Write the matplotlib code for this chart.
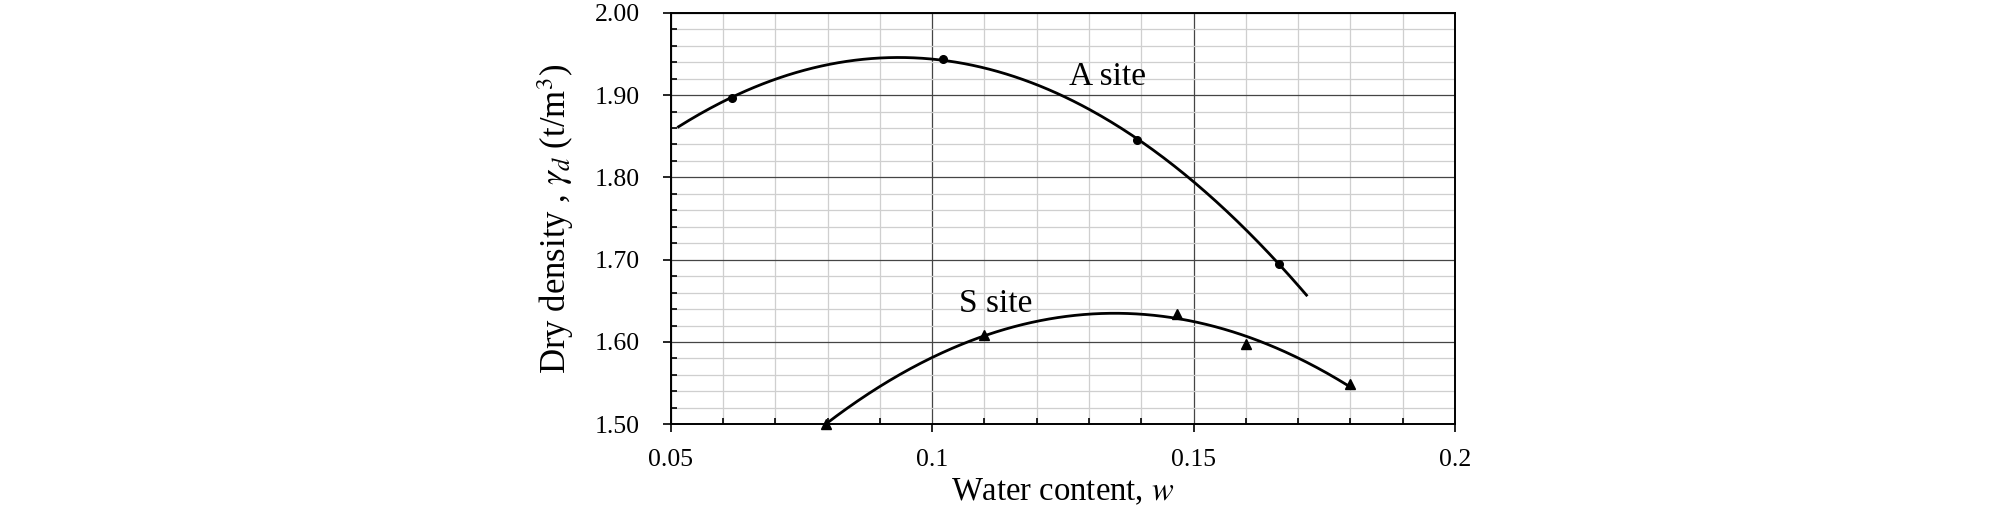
import numpy as np
import matplotlib.pyplot as plt
from matplotlib.ticker import MultipleLocator, FuncFormatter

plt.rcParams['font.family'] = ['Liberation Serif', 'DejaVu Serif']
plt.rcParams['mathtext.fontset'] = 'stix'

# A site (circles) and S site (triangles)
a_w = [0.0617, 0.1021, 0.1392, 0.1664]
a_d = [1.897, 1.9435, 1.8455, 1.6948]
s_w = [0.0798, 0.110, 0.1469, 0.160, 0.1799]
s_d = [1.500, 1.609, 1.6337, 1.598, 1.549]
# extent of the drawn trend lines
a_range = (0.0515, 0.1716)
s_range = (0.0798, 0.1799)

fig = plt.figure(figsize=(20.08, 5.08), dpi=100)
ax = fig.add_axes([0.334, 0.1648, 0.3906, 0.810])

for w, d, rng, mk, ms in [(a_w, a_d, a_range, 'o', 5.5), (s_w, s_d, s_range, '^', 6.5)]:
    c = np.polyfit(w, d, 2)
    xs = np.linspace(rng[0], rng[1], 300)
    ax.plot(xs, np.polyval(c, xs), color='black', lw=2, zorder=3)
    ax.plot(w, d, ls='none', marker=mk, ms=ms, color='black', zorder=4, clip_on=False)

ax.text(0.1336, 1.922, 'A site', fontsize=24, ha='center', va='center')
ax.text(0.1122, 1.646, 'S site', fontsize=24, ha='center', va='center')

ax.set_xlim(0.05, 0.2)
ax.set_ylim(1.5, 2.0)
ax.xaxis.set_major_locator(MultipleLocator(0.05))
ax.xaxis.set_minor_locator(MultipleLocator(0.01))
ax.yaxis.set_major_locator(MultipleLocator(0.1))
ax.yaxis.set_minor_locator(MultipleLocator(0.02))
ax.xaxis.set_major_formatter(FuncFormatter(lambda v, p: '{:g}'.format(round(v, 3))))
ax.yaxis.set_major_formatter(FuncFormatter(lambda v, p: '{:.2f}'.format(v)))

ax.grid(which='minor', color='#cfcfcf', lw=0.9)
ax.grid(which='major', color='#454545', lw=0.9)
ax.set_axisbelow(True)

ax.tick_params(which='major', direction='out', length=6, width=1.2, labelsize=18.5, pad=16)
ax.tick_params(which='minor', direction='in', length=4, width=1.2)
ax.tick_params(axis='x', which='major', pad=12)
for s in ax.spines.values():
    s.set_linewidth(1.4)
    s.set_color('black')

ax.set_xlabel('Water content, $w$', fontsize=23.5, labelpad=4)
ax.set_ylabel('Dry density , $\\gamma_d$ (t/m$^3$)', fontsize=25, labelpad=14)

fig.savefig('out.png', dpi=100)
